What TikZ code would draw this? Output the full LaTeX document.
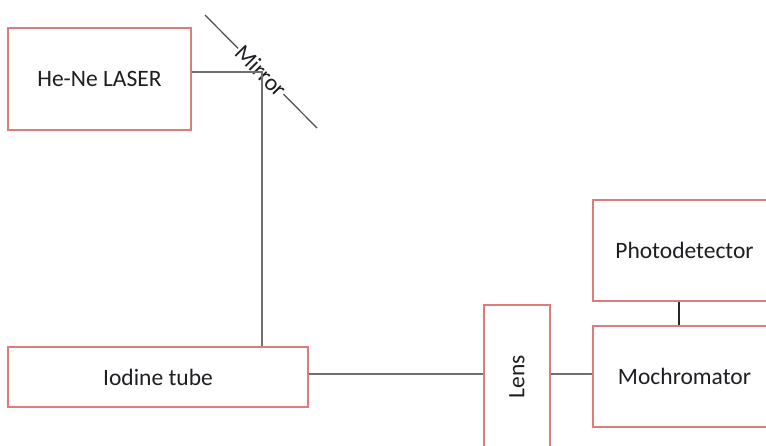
\documentclass[tikz,border=0pt]{standalone}
\usepackage{fontspec}
\setmainfont{Carlito}
\definecolor{boxred}{RGB}{220,125,122}
\definecolor{beamgray}{RGB}{112,112,112}
\definecolor{txt}{RGB}{30,30,35}
\begin{document}
\begin{tikzpicture}[x=1pt,y=-1pt,
  box/.style={draw=boxred, line width=1.4pt, fill=white, inner sep=0pt,
    font=\fontsize{23.5}{27}\selectfont, text=txt},
  beam/.style={draw=beamgray, line width=1.9pt},
  thinline/.style={draw=black!85, line width=1.2pt},
  mirrorline/.style={draw=black!70, line width=1.2pt},
  lbl/.style={font=\fontsize{23.5}{27}\selectfont, text=txt, inner sep=1pt}]
\clip (0,0) rectangle (766,445);
\fill[white] (0,0) rectangle (766,445);
% boxes
\node[box, minimum width=183pt, minimum height=102pt] (laser) at (99.5,79) {He-Ne LASER};
\node[box, minimum width=300pt, minimum height=60pt] (iodine) at (158,377) {Iodine tube};
\node[box, minimum width=66pt, minimum height=143pt] (lens) at (517,376.5) {};
\node[lbl, rotate=90] (lenstext) at (517,376.5) {Lens};
\node[box, minimum width=183pt, minimum height=101pt] (mono) at (684.5,376.5) {Mochromator};
\node[box, minimum width=183pt, minimum height=101pt] (photo) at (684.5,250.5) {Photodetector};
% mirror
\coordinate (m1) at (205,15);
\coordinate (m2) at (317,128);
\draw[mirrorline] (m1) -- (m2);
\node[lbl, fill=white, rotate=-45] (mirror) at (261,71) {Mirror};
% beam path
\coordinate (mc) at (262,72);
\coordinate (beamy) at (0,374);
\coordinate (linkx) at (679,0);
\draw[beam] (laser.east |- mc) -- (mc) -- (iodine.north -| mc);
\draw[beam] (iodine.east |- beamy) -- (lens.west |- beamy);
\draw[beam] (lens.east |- beamy) -- (mono.west |- beamy);
\draw[thinline] (photo.south -| linkx) -- (mono.north -| linkx);
\end{tikzpicture}
\end{document}
